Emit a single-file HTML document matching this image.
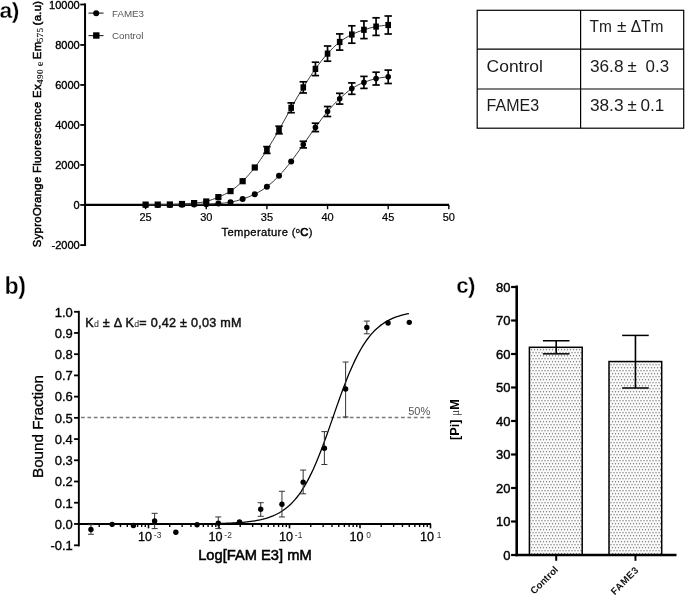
<!DOCTYPE html>
<html lang="en"><head><meta charset="utf-8"><title>Figure</title>
<style>
html,body{margin:0;padding:0;background:#fff;}
body{width:685px;height:596px;overflow:hidden;}
svg{display:block;}
text{font-kerning:normal;}
</style></head><body>
<svg width="685" height="596" viewBox="0 0 685 596">
<rect width="685" height="596" fill="#fff"/>
<g id="panelA">
<line x1="85.05" y1="3.40" x2="85.05" y2="246.00" stroke="#000" stroke-width="2.0" />
<line x1="84.05" y1="204.95" x2="449.00" y2="204.95" stroke="#000" stroke-width="2.2" />
<line x1="80.25" y1="4.50" x2="85.05" y2="4.50" stroke="#000" stroke-width="1.8" />
<text x="79.75" y="8.65" font-size="11.05" font-weight="normal" text-anchor="end" fill="#000" font-family='"Liberation Sans", sans-serif' stroke="#000" stroke-width="0.35">10000</text>
<line x1="80.25" y1="44.95" x2="85.05" y2="44.95" stroke="#000" stroke-width="1.8" />
<text x="79.75" y="49.10" font-size="11.05" font-weight="normal" text-anchor="end" fill="#000" font-family='"Liberation Sans", sans-serif' stroke="#000" stroke-width="0.35">8000</text>
<line x1="80.25" y1="84.95" x2="85.05" y2="84.95" stroke="#000" stroke-width="1.8" />
<text x="79.75" y="89.10" font-size="11.05" font-weight="normal" text-anchor="end" fill="#000" font-family='"Liberation Sans", sans-serif' stroke="#000" stroke-width="0.35">6000</text>
<line x1="80.25" y1="124.95" x2="85.05" y2="124.95" stroke="#000" stroke-width="1.8" />
<text x="79.75" y="129.10" font-size="11.05" font-weight="normal" text-anchor="end" fill="#000" font-family='"Liberation Sans", sans-serif' stroke="#000" stroke-width="0.35">4000</text>
<line x1="80.25" y1="164.95" x2="85.05" y2="164.95" stroke="#000" stroke-width="1.8" />
<text x="79.75" y="169.10" font-size="11.05" font-weight="normal" text-anchor="end" fill="#000" font-family='"Liberation Sans", sans-serif' stroke="#000" stroke-width="0.35">2000</text>
<line x1="80.25" y1="204.95" x2="85.05" y2="204.95" stroke="#000" stroke-width="1.8" />
<text x="79.75" y="209.10" font-size="11.05" font-weight="normal" text-anchor="end" fill="#000" font-family='"Liberation Sans", sans-serif' stroke="#000" stroke-width="0.35">0</text>
<line x1="80.25" y1="245.10" x2="85.05" y2="245.10" stroke="#000" stroke-width="1.8" />
<text x="79.75" y="249.25" font-size="11.05" font-weight="normal" text-anchor="end" fill="#000" font-family='"Liberation Sans", sans-serif' stroke="#000" stroke-width="0.35">-2000</text>
<line x1="145.60" y1="204.95" x2="145.60" y2="209.25" stroke="#000" stroke-width="1.4" />
<text x="145.60" y="220.60" font-size="11" font-weight="normal" text-anchor="middle" fill="#000" font-family='"Liberation Sans", sans-serif' stroke="#000" stroke-width="0.2">25</text>
<line x1="206.25" y1="204.95" x2="206.25" y2="209.25" stroke="#000" stroke-width="1.4" />
<text x="206.25" y="220.60" font-size="11" font-weight="normal" text-anchor="middle" fill="#000" font-family='"Liberation Sans", sans-serif' stroke="#000" stroke-width="0.2">30</text>
<line x1="266.90" y1="204.95" x2="266.90" y2="209.25" stroke="#000" stroke-width="1.4" />
<text x="266.90" y="220.60" font-size="11" font-weight="normal" text-anchor="middle" fill="#000" font-family='"Liberation Sans", sans-serif' stroke="#000" stroke-width="0.2">35</text>
<line x1="327.55" y1="204.95" x2="327.55" y2="209.25" stroke="#000" stroke-width="1.4" />
<text x="327.55" y="220.60" font-size="11" font-weight="normal" text-anchor="middle" fill="#000" font-family='"Liberation Sans", sans-serif' stroke="#000" stroke-width="0.2">40</text>
<line x1="388.20" y1="204.95" x2="388.20" y2="209.25" stroke="#000" stroke-width="1.4" />
<text x="388.20" y="220.60" font-size="11" font-weight="normal" text-anchor="middle" fill="#000" font-family='"Liberation Sans", sans-serif' stroke="#000" stroke-width="0.2">45</text>
<line x1="448.85" y1="204.95" x2="448.85" y2="209.25" stroke="#000" stroke-width="1.4" />
<text x="448.85" y="220.60" font-size="11" font-weight="normal" text-anchor="middle" fill="#000" font-family='"Liberation Sans", sans-serif' stroke="#000" stroke-width="0.2">50</text>
<text x="221.5" y="236.3" font-size="11.2" font-family='"Liberation Sans", sans-serif' fill="#000" stroke="#000" stroke-width="0.3" letter-spacing="0.36">Temperature (<tspan font-size="7.5" dy="-3.5">o</tspan><tspan dy="3.5" stroke-width="0.7">C</tspan>)</text>
<text transform="translate(41.0,247.2) rotate(-90)" font-size="11.3" font-family='"Liberation Sans", sans-serif' fill="#000" stroke="#000" stroke-width="0.5" letter-spacing="0.32">SyproOrange Fluorescence Ex<tspan font-family='"Liberation Serif", serif' font-size="9.2" dy="2.2" stroke-width="0.15" fill="#111" letter-spacing="0.4">490<tspan dx="0.3" font-size="9.8"> e</tspan></tspan><tspan dy="-2.2" dx="-1.4"> Em</tspan><tspan font-family='"Liberation Serif", serif' font-size="9.2" dy="2.2" dx="-0.8" stroke-width="0.15" fill="#111" letter-spacing="0.3">575</tspan><tspan dy="-2.2" dx="-1.2" letter-spacing="0.3"> (a.u)</tspan></text>
<line x1="88.50" y1="13.10" x2="103.50" y2="13.10" stroke="#222" stroke-width="1.1" />
<circle cx="96.2" cy="13.2" r="3.0" fill="#000"/>
<text x="112.00" y="16.50" font-size="9.75" font-weight="normal" text-anchor="start" fill="#555" font-family='"Liberation Sans", sans-serif' >FAME3</text>
<line x1="88.50" y1="35.60" x2="103.50" y2="35.60" stroke="#222" stroke-width="1.1" />
<rect x="93.1" y="32.3" width="6.4" height="6.4" fill="#000"/>
<text x="112.00" y="38.80" font-size="9.75" font-weight="normal" text-anchor="start" fill="#555" font-family='"Liberation Sans", sans-serif' >Control</text>
<path d="M145.60,204.60 C147.62,204.60 153.69,204.62 157.73,204.60 C161.77,204.58 165.82,204.60 169.86,204.50 C173.90,204.40 177.95,204.23 181.99,204.00 C186.03,203.77 190.08,203.52 194.12,203.10 C198.16,202.68 202.21,202.50 206.25,201.50 C210.29,200.50 214.34,198.83 218.38,197.10 C222.42,195.37 226.47,193.75 230.51,191.10 C234.55,188.45 238.60,185.13 242.64,181.20 C246.68,177.27 250.73,172.70 254.77,167.50 C258.81,162.30 262.86,156.25 266.90,150.00 C270.94,143.75 274.99,137.03 279.03,130.00 C283.07,122.97 287.12,114.90 291.16,107.80 C295.20,100.70 299.25,93.88 303.29,87.40 C307.33,80.92 311.38,74.53 315.42,68.90 C319.46,63.27 323.51,58.08 327.55,53.60 C331.59,49.12 335.64,45.18 339.68,42.00 C343.72,38.82 347.77,36.53 351.81,34.50 C355.85,32.47 359.90,31.12 363.94,29.80 C367.98,28.48 372.03,27.40 376.07,26.60 C380.11,25.80 386.18,25.27 388.20,25.00" fill="none" stroke="#3a3a3a" stroke-width="1"/>
<rect x="142.50" y="201.50" width="6.2" height="6.2" fill="#000"/>
<rect x="154.63" y="201.50" width="6.2" height="6.2" fill="#000"/>
<rect x="166.76" y="201.40" width="6.2" height="6.2" fill="#000"/>
<rect x="178.89" y="200.90" width="6.2" height="6.2" fill="#000"/>
<rect x="191.02" y="200.00" width="6.2" height="6.2" fill="#000"/>
<rect x="203.15" y="198.40" width="6.2" height="6.2" fill="#000"/>
<rect x="215.28" y="194.00" width="6.2" height="6.2" fill="#000"/>
<rect x="227.41" y="188.00" width="6.2" height="6.2" fill="#000"/>
<rect x="239.54" y="178.10" width="6.2" height="6.2" fill="#000"/>
<rect x="251.67" y="164.40" width="6.2" height="6.2" fill="#000"/>
<line x1="266.90" y1="146.60" x2="266.90" y2="153.40" stroke="#000" stroke-width="1.7" />
<line x1="263.20" y1="146.60" x2="270.60" y2="146.60" stroke="#000" stroke-width="1.7" />
<line x1="263.20" y1="153.40" x2="270.60" y2="153.40" stroke="#000" stroke-width="1.7" />
<rect x="264.10" y="146.90" width="5.6" height="6.2" fill="#000"/>
<line x1="279.03" y1="126.20" x2="279.03" y2="133.80" stroke="#000" stroke-width="1.7" />
<line x1="275.33" y1="126.20" x2="282.73" y2="126.20" stroke="#000" stroke-width="1.7" />
<line x1="275.33" y1="133.80" x2="282.73" y2="133.80" stroke="#000" stroke-width="1.7" />
<rect x="276.23" y="126.90" width="5.6" height="6.2" fill="#000"/>
<line x1="291.16" y1="102.90" x2="291.16" y2="112.70" stroke="#000" stroke-width="1.7" />
<line x1="287.46" y1="102.90" x2="294.86" y2="102.90" stroke="#000" stroke-width="1.7" />
<line x1="287.46" y1="112.70" x2="294.86" y2="112.70" stroke="#000" stroke-width="1.7" />
<rect x="288.36" y="104.70" width="5.6" height="6.2" fill="#000"/>
<line x1="303.29" y1="81.80" x2="303.29" y2="93.00" stroke="#000" stroke-width="1.7" />
<line x1="299.59" y1="81.80" x2="306.99" y2="81.80" stroke="#000" stroke-width="1.7" />
<line x1="299.59" y1="93.00" x2="306.99" y2="93.00" stroke="#000" stroke-width="1.7" />
<rect x="300.49" y="84.30" width="5.6" height="6.2" fill="#000"/>
<line x1="315.42" y1="62.20" x2="315.42" y2="75.60" stroke="#000" stroke-width="1.7" />
<line x1="311.72" y1="62.20" x2="319.12" y2="62.20" stroke="#000" stroke-width="1.7" />
<line x1="311.72" y1="75.60" x2="319.12" y2="75.60" stroke="#000" stroke-width="1.7" />
<rect x="312.62" y="65.80" width="5.6" height="6.2" fill="#000"/>
<line x1="327.55" y1="46.00" x2="327.55" y2="61.20" stroke="#000" stroke-width="1.7" />
<line x1="323.85" y1="46.00" x2="331.25" y2="46.00" stroke="#000" stroke-width="1.7" />
<line x1="323.85" y1="61.20" x2="331.25" y2="61.20" stroke="#000" stroke-width="1.7" />
<rect x="324.75" y="50.50" width="5.6" height="6.2" fill="#000"/>
<line x1="339.68" y1="33.90" x2="339.68" y2="50.10" stroke="#000" stroke-width="1.7" />
<line x1="335.98" y1="33.90" x2="343.38" y2="33.90" stroke="#000" stroke-width="1.7" />
<line x1="335.98" y1="50.10" x2="343.38" y2="50.10" stroke="#000" stroke-width="1.7" />
<rect x="336.88" y="38.90" width="5.6" height="6.2" fill="#000"/>
<line x1="351.81" y1="25.80" x2="351.81" y2="43.20" stroke="#000" stroke-width="1.7" />
<line x1="348.11" y1="25.80" x2="355.51" y2="25.80" stroke="#000" stroke-width="1.7" />
<line x1="348.11" y1="43.20" x2="355.51" y2="43.20" stroke="#000" stroke-width="1.7" />
<rect x="349.01" y="31.40" width="5.6" height="6.2" fill="#000"/>
<line x1="363.94" y1="21.00" x2="363.94" y2="38.60" stroke="#000" stroke-width="1.7" />
<line x1="360.24" y1="21.00" x2="367.64" y2="21.00" stroke="#000" stroke-width="1.7" />
<line x1="360.24" y1="38.60" x2="367.64" y2="38.60" stroke="#000" stroke-width="1.7" />
<rect x="361.14" y="26.70" width="5.6" height="6.2" fill="#000"/>
<line x1="376.07" y1="17.80" x2="376.07" y2="35.40" stroke="#000" stroke-width="1.7" />
<line x1="372.37" y1="17.80" x2="379.77" y2="17.80" stroke="#000" stroke-width="1.7" />
<line x1="372.37" y1="35.40" x2="379.77" y2="35.40" stroke="#000" stroke-width="1.7" />
<rect x="373.27" y="23.50" width="5.6" height="6.2" fill="#000"/>
<line x1="388.20" y1="16.00" x2="388.20" y2="34.00" stroke="#000" stroke-width="1.7" />
<line x1="384.50" y1="16.00" x2="391.90" y2="16.00" stroke="#000" stroke-width="1.7" />
<line x1="384.50" y1="34.00" x2="391.90" y2="34.00" stroke="#000" stroke-width="1.7" />
<rect x="385.40" y="21.90" width="5.6" height="6.2" fill="#000"/>
<path d="M145.60,204.90 C147.62,204.90 153.69,204.90 157.73,204.90 C161.77,204.90 165.82,204.92 169.86,204.90 C173.90,204.88 177.95,204.85 181.99,204.80 C186.03,204.75 190.08,204.70 194.12,204.60 C198.16,204.50 202.21,204.38 206.25,204.20 C210.29,204.02 214.34,203.83 218.38,203.50 C222.42,203.17 226.47,202.95 230.51,202.20 C234.55,201.45 238.60,200.33 242.64,199.00 C246.68,197.67 250.73,196.25 254.77,194.20 C258.81,192.15 262.86,189.77 266.90,186.70 C270.94,183.63 274.99,180.02 279.03,175.80 C283.07,171.58 287.12,166.60 291.16,161.40 C295.20,156.20 299.25,150.27 303.29,144.60 C307.33,138.93 311.38,132.92 315.42,127.40 C319.46,121.88 323.51,116.28 327.55,111.50 C331.59,106.72 335.64,102.52 339.68,98.70 C343.72,94.88 347.77,91.32 351.81,88.60 C355.85,85.88 359.90,84.07 363.94,82.40 C367.98,80.73 372.03,79.53 376.07,78.60 C380.11,77.67 386.18,77.10 388.20,76.80" fill="none" stroke="#3a3a3a" stroke-width="1"/>
<circle cx="145.60" cy="204.90" r="3.0" fill="#000"/>
<circle cx="157.73" cy="204.90" r="3.0" fill="#000"/>
<circle cx="169.86" cy="204.90" r="3.0" fill="#000"/>
<circle cx="181.99" cy="204.80" r="3.0" fill="#000"/>
<circle cx="194.12" cy="204.60" r="3.0" fill="#000"/>
<circle cx="206.25" cy="204.20" r="3.0" fill="#000"/>
<circle cx="218.38" cy="203.50" r="3.0" fill="#000"/>
<circle cx="230.51" cy="202.20" r="3.0" fill="#000"/>
<circle cx="242.64" cy="199.00" r="3.0" fill="#000"/>
<circle cx="254.77" cy="194.20" r="3.0" fill="#000"/>
<circle cx="266.90" cy="186.70" r="3.0" fill="#000"/>
<circle cx="279.03" cy="175.80" r="3.0" fill="#000"/>
<circle cx="291.16" cy="161.40" r="3.0" fill="#000"/>
<line x1="303.29" y1="141.30" x2="303.29" y2="147.90" stroke="#000" stroke-width="1.7" />
<line x1="299.59" y1="141.30" x2="306.99" y2="141.30" stroke="#000" stroke-width="1.7" />
<line x1="299.59" y1="147.90" x2="306.99" y2="147.90" stroke="#000" stroke-width="1.7" />
<circle cx="303.29" cy="144.60" r="2.8" fill="#000"/>
<line x1="315.42" y1="123.20" x2="315.42" y2="131.60" stroke="#000" stroke-width="1.7" />
<line x1="311.72" y1="123.20" x2="319.12" y2="123.20" stroke="#000" stroke-width="1.7" />
<line x1="311.72" y1="131.60" x2="319.12" y2="131.60" stroke="#000" stroke-width="1.7" />
<circle cx="315.42" cy="127.40" r="2.8" fill="#000"/>
<line x1="327.55" y1="106.50" x2="327.55" y2="116.50" stroke="#000" stroke-width="1.7" />
<line x1="323.85" y1="106.50" x2="331.25" y2="106.50" stroke="#000" stroke-width="1.7" />
<line x1="323.85" y1="116.50" x2="331.25" y2="116.50" stroke="#000" stroke-width="1.7" />
<circle cx="327.55" cy="111.50" r="2.8" fill="#000"/>
<line x1="339.68" y1="93.30" x2="339.68" y2="104.10" stroke="#000" stroke-width="1.7" />
<line x1="335.98" y1="93.30" x2="343.38" y2="93.30" stroke="#000" stroke-width="1.7" />
<line x1="335.98" y1="104.10" x2="343.38" y2="104.10" stroke="#000" stroke-width="1.7" />
<circle cx="339.68" cy="98.70" r="2.8" fill="#000"/>
<line x1="351.81" y1="82.90" x2="351.81" y2="94.30" stroke="#000" stroke-width="1.7" />
<line x1="348.11" y1="82.90" x2="355.51" y2="82.90" stroke="#000" stroke-width="1.7" />
<line x1="348.11" y1="94.30" x2="355.51" y2="94.30" stroke="#000" stroke-width="1.7" />
<circle cx="351.81" cy="88.60" r="2.8" fill="#000"/>
<line x1="363.94" y1="76.40" x2="363.94" y2="88.40" stroke="#000" stroke-width="1.7" />
<line x1="360.24" y1="76.40" x2="367.64" y2="76.40" stroke="#000" stroke-width="1.7" />
<line x1="360.24" y1="88.40" x2="367.64" y2="88.40" stroke="#000" stroke-width="1.7" />
<circle cx="363.94" cy="82.40" r="2.8" fill="#000"/>
<line x1="376.07" y1="72.20" x2="376.07" y2="85.00" stroke="#000" stroke-width="1.7" />
<line x1="372.37" y1="72.20" x2="379.77" y2="72.20" stroke="#000" stroke-width="1.7" />
<line x1="372.37" y1="85.00" x2="379.77" y2="85.00" stroke="#000" stroke-width="1.7" />
<circle cx="376.07" cy="78.60" r="2.8" fill="#000"/>
<line x1="388.20" y1="70.10" x2="388.20" y2="83.50" stroke="#000" stroke-width="1.7" />
<line x1="384.50" y1="70.10" x2="391.90" y2="70.10" stroke="#000" stroke-width="1.7" />
<line x1="384.50" y1="83.50" x2="391.90" y2="83.50" stroke="#000" stroke-width="1.7" />
<circle cx="388.20" cy="76.80" r="2.8" fill="#000"/>
</g>
<g id="panelB">
<line x1="78.85" y1="310.80" x2="78.85" y2="546.40" stroke="#000" stroke-width="1.9" />
<line x1="77.90" y1="523.95" x2="431.00" y2="523.95" stroke="#000" stroke-width="2.1" />
<line x1="74.05" y1="545.30" x2="78.85" y2="545.30" stroke="#000" stroke-width="1.8" />
<text x="72.85" y="550.10" font-size="13.0" text-anchor="end" font-family='"Liberation Sans", sans-serif' fill="#000" stroke="#000" stroke-width="0.35">-0.1</text>
<line x1="74.05" y1="523.95" x2="78.85" y2="523.95" stroke="#000" stroke-width="1.8" />
<text x="72.85" y="528.75" font-size="13.0" text-anchor="end" font-family='"Liberation Sans", sans-serif' fill="#000" stroke="#000" stroke-width="0.35">0.0</text>
<line x1="74.05" y1="502.73" x2="78.85" y2="502.73" stroke="#000" stroke-width="1.8" />
<text x="72.85" y="507.53" font-size="13.0" text-anchor="end" font-family='"Liberation Sans", sans-serif' fill="#000" stroke="#000" stroke-width="0.35">0.1</text>
<line x1="74.05" y1="481.51" x2="78.85" y2="481.51" stroke="#000" stroke-width="1.8" />
<text x="72.85" y="486.31" font-size="13.0" text-anchor="end" font-family='"Liberation Sans", sans-serif' fill="#000" stroke="#000" stroke-width="0.35">0.2</text>
<line x1="74.05" y1="460.29" x2="78.85" y2="460.29" stroke="#000" stroke-width="1.8" />
<text x="72.85" y="465.09" font-size="13.0" text-anchor="end" font-family='"Liberation Sans", sans-serif' fill="#000" stroke="#000" stroke-width="0.35">0.3</text>
<line x1="74.05" y1="439.07" x2="78.85" y2="439.07" stroke="#000" stroke-width="1.8" />
<text x="72.85" y="443.87" font-size="13.0" text-anchor="end" font-family='"Liberation Sans", sans-serif' fill="#000" stroke="#000" stroke-width="0.35">0.4</text>
<line x1="74.05" y1="417.85" x2="78.85" y2="417.85" stroke="#000" stroke-width="1.8" />
<text x="72.85" y="422.65" font-size="13.0" text-anchor="end" font-family='"Liberation Sans", sans-serif' fill="#000" stroke="#000" stroke-width="0.35">0.5</text>
<line x1="74.05" y1="396.63" x2="78.85" y2="396.63" stroke="#000" stroke-width="1.8" />
<text x="72.85" y="401.43" font-size="13.0" text-anchor="end" font-family='"Liberation Sans", sans-serif' fill="#000" stroke="#000" stroke-width="0.35">0.6</text>
<line x1="74.05" y1="375.41" x2="78.85" y2="375.41" stroke="#000" stroke-width="1.8" />
<text x="72.85" y="380.21" font-size="13.0" text-anchor="end" font-family='"Liberation Sans", sans-serif' fill="#000" stroke="#000" stroke-width="0.35">0.7</text>
<line x1="74.05" y1="354.19" x2="78.85" y2="354.19" stroke="#000" stroke-width="1.8" />
<text x="72.85" y="358.99" font-size="13.0" text-anchor="end" font-family='"Liberation Sans", sans-serif' fill="#000" stroke="#000" stroke-width="0.35">0.8</text>
<line x1="74.05" y1="332.97" x2="78.85" y2="332.97" stroke="#000" stroke-width="1.8" />
<text x="72.85" y="337.77" font-size="13.0" text-anchor="end" font-family='"Liberation Sans", sans-serif' fill="#000" stroke="#000" stroke-width="0.35">0.9</text>
<line x1="74.05" y1="311.80" x2="78.85" y2="311.80" stroke="#000" stroke-width="1.8" />
<text x="72.85" y="316.60" font-size="13.0" text-anchor="end" font-family='"Liberation Sans", sans-serif' fill="#000" stroke="#000" stroke-width="0.35">1.0</text>
<line x1="99.22" y1="523.95" x2="99.22" y2="527.05" stroke="#000" stroke-width="1.4" />
<line x1="111.64" y1="523.95" x2="111.64" y2="527.05" stroke="#000" stroke-width="1.4" />
<line x1="120.45" y1="523.95" x2="120.45" y2="527.05" stroke="#000" stroke-width="1.4" />
<line x1="127.28" y1="523.95" x2="127.28" y2="527.05" stroke="#000" stroke-width="1.4" />
<line x1="132.86" y1="523.95" x2="132.86" y2="527.05" stroke="#000" stroke-width="1.4" />
<line x1="137.58" y1="523.95" x2="137.58" y2="527.05" stroke="#000" stroke-width="1.4" />
<line x1="141.67" y1="523.95" x2="141.67" y2="527.05" stroke="#000" stroke-width="1.4" />
<line x1="145.27" y1="523.95" x2="145.27" y2="527.05" stroke="#000" stroke-width="1.4" />
<line x1="148.50" y1="523.95" x2="148.50" y2="528.35" stroke="#000" stroke-width="1.6" />
<text x="137.90" y="541.0" font-size="12.6" font-family='"Liberation Sans", sans-serif' fill="#000" stroke="#000" stroke-width="0.3">10</text>
<text x="153.80" y="537.6" font-size="8.4" font-family='"Liberation Sans", sans-serif' fill="#333" letter-spacing="0.1">-3</text>
<line x1="169.72" y1="523.95" x2="169.72" y2="527.05" stroke="#000" stroke-width="1.4" />
<line x1="182.14" y1="523.95" x2="182.14" y2="527.05" stroke="#000" stroke-width="1.4" />
<line x1="190.95" y1="523.95" x2="190.95" y2="527.05" stroke="#000" stroke-width="1.4" />
<line x1="197.78" y1="523.95" x2="197.78" y2="527.05" stroke="#000" stroke-width="1.4" />
<line x1="203.36" y1="523.95" x2="203.36" y2="527.05" stroke="#000" stroke-width="1.4" />
<line x1="208.08" y1="523.95" x2="208.08" y2="527.05" stroke="#000" stroke-width="1.4" />
<line x1="212.17" y1="523.95" x2="212.17" y2="527.05" stroke="#000" stroke-width="1.4" />
<line x1="215.77" y1="523.95" x2="215.77" y2="527.05" stroke="#000" stroke-width="1.4" />
<line x1="219.00" y1="523.95" x2="219.00" y2="528.35" stroke="#000" stroke-width="1.6" />
<text x="208.40" y="541.0" font-size="12.6" font-family='"Liberation Sans", sans-serif' fill="#000" stroke="#000" stroke-width="0.3">10</text>
<text x="224.30" y="537.6" font-size="8.4" font-family='"Liberation Sans", sans-serif' fill="#333" letter-spacing="0.1">-2</text>
<line x1="240.22" y1="523.95" x2="240.22" y2="527.05" stroke="#000" stroke-width="1.4" />
<line x1="252.64" y1="523.95" x2="252.64" y2="527.05" stroke="#000" stroke-width="1.4" />
<line x1="261.45" y1="523.95" x2="261.45" y2="527.05" stroke="#000" stroke-width="1.4" />
<line x1="268.28" y1="523.95" x2="268.28" y2="527.05" stroke="#000" stroke-width="1.4" />
<line x1="273.86" y1="523.95" x2="273.86" y2="527.05" stroke="#000" stroke-width="1.4" />
<line x1="278.58" y1="523.95" x2="278.58" y2="527.05" stroke="#000" stroke-width="1.4" />
<line x1="282.67" y1="523.95" x2="282.67" y2="527.05" stroke="#000" stroke-width="1.4" />
<line x1="286.27" y1="523.95" x2="286.27" y2="527.05" stroke="#000" stroke-width="1.4" />
<line x1="289.50" y1="523.95" x2="289.50" y2="528.35" stroke="#000" stroke-width="1.6" />
<text x="278.90" y="541.0" font-size="12.6" font-family='"Liberation Sans", sans-serif' fill="#000" stroke="#000" stroke-width="0.3">10</text>
<text x="294.80" y="537.6" font-size="8.4" font-family='"Liberation Sans", sans-serif' fill="#333" letter-spacing="0.1">-1</text>
<line x1="310.72" y1="523.95" x2="310.72" y2="527.05" stroke="#000" stroke-width="1.4" />
<line x1="323.14" y1="523.95" x2="323.14" y2="527.05" stroke="#000" stroke-width="1.4" />
<line x1="331.95" y1="523.95" x2="331.95" y2="527.05" stroke="#000" stroke-width="1.4" />
<line x1="338.78" y1="523.95" x2="338.78" y2="527.05" stroke="#000" stroke-width="1.4" />
<line x1="344.36" y1="523.95" x2="344.36" y2="527.05" stroke="#000" stroke-width="1.4" />
<line x1="349.08" y1="523.95" x2="349.08" y2="527.05" stroke="#000" stroke-width="1.4" />
<line x1="353.17" y1="523.95" x2="353.17" y2="527.05" stroke="#000" stroke-width="1.4" />
<line x1="356.77" y1="523.95" x2="356.77" y2="527.05" stroke="#000" stroke-width="1.4" />
<line x1="360.00" y1="523.95" x2="360.00" y2="528.35" stroke="#000" stroke-width="1.6" />
<text x="349.40" y="541.0" font-size="12.6" font-family='"Liberation Sans", sans-serif' fill="#000" stroke="#000" stroke-width="0.3">10</text>
<text x="366.30" y="537.6" font-size="8.4" font-family='"Liberation Sans", sans-serif' fill="#333" letter-spacing="0.1">0</text>
<line x1="381.22" y1="523.95" x2="381.22" y2="527.05" stroke="#000" stroke-width="1.4" />
<line x1="393.64" y1="523.95" x2="393.64" y2="527.05" stroke="#000" stroke-width="1.4" />
<line x1="402.45" y1="523.95" x2="402.45" y2="527.05" stroke="#000" stroke-width="1.4" />
<line x1="409.28" y1="523.95" x2="409.28" y2="527.05" stroke="#000" stroke-width="1.4" />
<line x1="414.86" y1="523.95" x2="414.86" y2="527.05" stroke="#000" stroke-width="1.4" />
<line x1="419.58" y1="523.95" x2="419.58" y2="527.05" stroke="#000" stroke-width="1.4" />
<line x1="423.67" y1="523.95" x2="423.67" y2="527.05" stroke="#000" stroke-width="1.4" />
<line x1="427.27" y1="523.95" x2="427.27" y2="527.05" stroke="#000" stroke-width="1.4" />
<line x1="430.50" y1="523.95" x2="430.50" y2="528.35" stroke="#000" stroke-width="1.6" />
<text x="419.90" y="541.0" font-size="12.6" font-family='"Liberation Sans", sans-serif' fill="#000" stroke="#000" stroke-width="0.3">10</text>
<text x="436.80" y="537.6" font-size="8.4" font-family='"Liberation Sans", sans-serif' fill="#333" letter-spacing="0.1">1</text>
<text x="254.9" y="560.3" font-size="14.7" text-anchor="middle" font-family='"Liberation Sans", sans-serif' fill="#000" stroke="#000" stroke-width="0.55">Log[FAM E3] mM</text>
<text transform="translate(42.6,426.5) rotate(-90)" text-anchor="middle" font-size="15.2" font-family='"Liberation Sans", sans-serif' fill="#000" stroke="#000" stroke-width="0.3">Bound Fraction</text>
<text x="85.3" y="326.9" font-size="12.6" font-family='"Liberation Sans", sans-serif' fill="#111" stroke="#111" stroke-width="0.45" textLength="156.2" lengthAdjust="spacing">K<tspan font-size="8.8" stroke-width="0.1" fill="#444">d</tspan> ± Δ K<tspan font-size="8.8" stroke-width="0.1" fill="#444">d</tspan>= 0,42 ± 0,03 mM</text>
<line x1="81.05" y1="417.55" x2="431.20" y2="417.55" stroke="#7a7a7a" stroke-width="1.4" stroke-dasharray="3.7 2.7"/>
<text x="430.20" y="415.10" font-size="11" font-weight="normal" text-anchor="end" fill="#555" font-family='"Liberation Sans", sans-serif' >50%</text>
<polyline points="190.95,523.85 192.95,523.84 194.95,523.82 196.95,523.81 198.95,523.79 200.95,523.78 202.95,523.76 204.95,523.74 206.95,523.71 208.95,523.68 210.95,523.65 212.95,523.62 214.95,523.58 216.95,523.54 218.95,523.49 220.95,523.44 222.95,523.39 224.95,523.32 226.95,523.25 228.95,523.17 230.95,523.08 232.95,522.98 234.95,522.87 236.95,522.75 238.95,522.62 240.95,522.47 242.95,522.30 244.95,522.11 246.95,521.91 248.95,521.68 250.95,521.42 252.95,521.14 254.95,520.82 256.95,520.47 258.95,520.08 260.95,519.65 262.95,519.17 264.95,518.64 266.95,518.06 268.95,517.41 270.95,516.69 272.95,515.89 274.95,515.01 276.95,514.04 278.95,512.97 280.95,511.79 282.95,510.50 284.95,509.07 286.95,507.51 288.95,505.80 290.95,503.93 292.95,501.88 294.95,499.66 296.95,497.24 298.95,494.61 300.95,491.78 302.95,488.72 304.95,485.43 306.95,481.91 308.95,478.15 310.95,474.15 312.95,469.91 314.95,465.45 316.95,460.76 318.95,455.85 320.95,450.76 322.95,445.48 324.95,440.05 326.95,434.50 328.95,428.85 330.95,423.12 332.95,417.37 334.95,411.61 336.95,405.88 338.95,400.22 340.95,394.65 342.95,389.20 344.95,383.91 346.95,378.79 348.95,373.86 350.95,369.14 352.95,364.64 354.95,360.38 356.95,356.35 358.95,352.56 360.95,349.01 362.95,345.69 364.95,342.60 366.95,339.74 368.95,337.09 370.95,334.64 372.95,332.39 374.95,330.33 376.95,328.43 378.95,326.70 380.95,325.12 382.95,323.68 384.95,322.37 386.95,321.17 388.95,320.09 390.95,319.11 392.95,318.22 394.95,317.41 396.95,316.68 398.95,316.03 400.95,315.43 402.95,314.89 404.95,314.41 406.95,313.97 408.95,313.58" fill="none" stroke="#000" stroke-width="1.3"/>
<circle cx="409.28" cy="322.36" r="2.7" fill="#000"/>
<circle cx="388.05" cy="323.00" r="2.7" fill="#000"/>
<line x1="366.83" y1="321.09" x2="366.83" y2="333.82" stroke="#333" stroke-width="1" />
<line x1="363.83" y1="321.09" x2="369.83" y2="321.09" stroke="#333" stroke-width="1" />
<line x1="363.83" y1="333.82" x2="369.83" y2="333.82" stroke="#333" stroke-width="1" />
<circle cx="366.83" cy="327.45" r="2.7" fill="#000"/>
<line x1="345.61" y1="362.04" x2="345.61" y2="417.00" stroke="#333" stroke-width="1" />
<line x1="342.61" y1="362.04" x2="348.61" y2="362.04" stroke="#333" stroke-width="1" />
<line x1="342.61" y1="417.00" x2="348.61" y2="417.00" stroke="#333" stroke-width="1" />
<circle cx="345.61" cy="388.99" r="2.7" fill="#000"/>
<line x1="324.39" y1="431.64" x2="324.39" y2="464.53" stroke="#333" stroke-width="1" />
<line x1="321.39" y1="431.64" x2="327.39" y2="431.64" stroke="#333" stroke-width="1" />
<line x1="321.39" y1="464.53" x2="327.39" y2="464.53" stroke="#333" stroke-width="1" />
<circle cx="324.39" cy="448.19" r="2.7" fill="#000"/>
<line x1="303.16" y1="470.05" x2="303.16" y2="493.82" stroke="#333" stroke-width="1" />
<line x1="300.16" y1="470.05" x2="306.16" y2="470.05" stroke="#333" stroke-width="1" />
<line x1="300.16" y1="493.82" x2="306.16" y2="493.82" stroke="#333" stroke-width="1" />
<circle cx="303.16" cy="482.15" r="2.7" fill="#000"/>
<line x1="281.94" y1="491.27" x2="281.94" y2="516.95" stroke="#333" stroke-width="1" />
<line x1="278.94" y1="491.27" x2="284.94" y2="491.27" stroke="#333" stroke-width="1" />
<line x1="278.94" y1="516.95" x2="284.94" y2="516.95" stroke="#333" stroke-width="1" />
<circle cx="281.94" cy="504.22" r="2.7" fill="#000"/>
<line x1="260.72" y1="502.73" x2="260.72" y2="516.31" stroke="#333" stroke-width="1" />
<line x1="257.72" y1="502.73" x2="263.72" y2="502.73" stroke="#333" stroke-width="1" />
<line x1="257.72" y1="516.31" x2="263.72" y2="516.31" stroke="#333" stroke-width="1" />
<circle cx="260.72" cy="509.31" r="2.7" fill="#000"/>
<circle cx="239.50" cy="521.83" r="2.7" fill="#000"/>
<line x1="218.27" y1="516.95" x2="218.27" y2="528.62" stroke="#333" stroke-width="1" />
<line x1="215.27" y1="516.95" x2="221.27" y2="516.95" stroke="#333" stroke-width="1" />
<line x1="215.27" y1="528.62" x2="221.27" y2="528.62" stroke="#333" stroke-width="1" />
<circle cx="218.27" cy="523.10" r="2.7" fill="#000"/>
<circle cx="197.05" cy="524.80" r="2.7" fill="#000"/>
<circle cx="175.83" cy="532.23" r="2.7" fill="#000"/>
<line x1="154.61" y1="513.34" x2="154.61" y2="528.62" stroke="#333" stroke-width="1" />
<line x1="151.61" y1="513.34" x2="157.61" y2="513.34" stroke="#333" stroke-width="1" />
<line x1="151.61" y1="528.62" x2="157.61" y2="528.62" stroke="#333" stroke-width="1" />
<circle cx="154.61" cy="520.98" r="2.7" fill="#000"/>
<circle cx="133.38" cy="525.44" r="2.7" fill="#000"/>
<circle cx="112.16" cy="524.37" r="2.7" fill="#000"/>
<line x1="90.94" y1="524.67" x2="90.94" y2="534.26" stroke="#333" stroke-width="1" />
<line x1="87.94" y1="524.67" x2="93.94" y2="524.67" stroke="#333" stroke-width="1" />
<line x1="87.94" y1="534.26" x2="93.94" y2="534.26" stroke="#333" stroke-width="1" />
<circle cx="90.94" cy="529.47" r="2.7" fill="#000"/>
</g>
<g id="panelC">
<defs><pattern id="dots" x="530" y="348.2" width="3" height="6" patternUnits="userSpaceOnUse"><rect width="3" height="6" fill="#fff"/><rect x="0.9" y="0.9" width="1.25" height="1.25" fill="#6e6e6e"/><rect x="2.4" y="3.9" width="0.6" height="1.25" fill="#6e6e6e"/><rect x="0" y="3.9" width="0.65" height="1.25" fill="#6e6e6e"/></pattern></defs>
<rect x="529.40" y="347.30" width="52.80" height="207.70" fill="url(#dots)" stroke="#000" stroke-width="1.5"/>
<line x1="556.20" y1="340.77" x2="556.20" y2="353.83" stroke="#000" stroke-width="1.6" />
<line x1="542.90" y1="340.77" x2="569.50" y2="340.77" stroke="#000" stroke-width="1.5" />
<line x1="542.90" y1="353.83" x2="569.50" y2="353.83" stroke="#000" stroke-width="1.5" />
<line x1="556.20" y1="555.00" x2="556.20" y2="560.80" stroke="#000" stroke-width="2.0" />
<rect x="609.00" y="361.54" width="52.70" height="193.46" fill="url(#dots)" stroke="#000" stroke-width="1.5"/>
<line x1="635.45" y1="335.41" x2="635.45" y2="388.00" stroke="#000" stroke-width="1.6" />
<line x1="622.15" y1="335.41" x2="648.75" y2="335.41" stroke="#000" stroke-width="1.5" />
<line x1="622.15" y1="388.00" x2="648.75" y2="388.00" stroke="#000" stroke-width="1.5" />
<line x1="635.45" y1="555.00" x2="635.45" y2="560.80" stroke="#000" stroke-width="2.0" />
<line x1="516.70" y1="285.60" x2="516.70" y2="556.30" stroke="#000" stroke-width="2.6" />
<line x1="515.40" y1="555.00" x2="676.50" y2="555.00" stroke="#000" stroke-width="2.6" />
<line x1="511.10" y1="555.00" x2="516.70" y2="555.00" stroke="#000" stroke-width="2.2" />
<text x="510.50" y="559.70" font-size="13.0" font-weight="normal" text-anchor="end" fill="#000" font-family='"Liberation Sans", sans-serif' stroke="#000" stroke-width="0.4">0</text>
<line x1="511.10" y1="521.50" x2="516.70" y2="521.50" stroke="#000" stroke-width="2.2" />
<text x="510.50" y="526.20" font-size="13.0" font-weight="normal" text-anchor="end" fill="#000" font-family='"Liberation Sans", sans-serif' stroke="#000" stroke-width="0.4">10</text>
<line x1="511.10" y1="488.00" x2="516.70" y2="488.00" stroke="#000" stroke-width="2.2" />
<text x="510.50" y="492.70" font-size="13.0" font-weight="normal" text-anchor="end" fill="#000" font-family='"Liberation Sans", sans-serif' stroke="#000" stroke-width="0.4">20</text>
<line x1="511.10" y1="454.50" x2="516.70" y2="454.50" stroke="#000" stroke-width="2.2" />
<text x="510.50" y="459.20" font-size="13.0" font-weight="normal" text-anchor="end" fill="#000" font-family='"Liberation Sans", sans-serif' stroke="#000" stroke-width="0.4">30</text>
<line x1="511.10" y1="421.00" x2="516.70" y2="421.00" stroke="#000" stroke-width="2.2" />
<text x="510.50" y="425.70" font-size="13.0" font-weight="normal" text-anchor="end" fill="#000" font-family='"Liberation Sans", sans-serif' stroke="#000" stroke-width="0.4">40</text>
<line x1="511.10" y1="387.50" x2="516.70" y2="387.50" stroke="#000" stroke-width="2.2" />
<text x="510.50" y="392.20" font-size="13.0" font-weight="normal" text-anchor="end" fill="#000" font-family='"Liberation Sans", sans-serif' stroke="#000" stroke-width="0.4">50</text>
<line x1="511.10" y1="354.00" x2="516.70" y2="354.00" stroke="#000" stroke-width="2.2" />
<text x="510.50" y="358.70" font-size="13.0" font-weight="normal" text-anchor="end" fill="#000" font-family='"Liberation Sans", sans-serif' stroke="#000" stroke-width="0.4">60</text>
<line x1="511.10" y1="320.50" x2="516.70" y2="320.50" stroke="#000" stroke-width="2.2" />
<text x="510.50" y="325.20" font-size="13.0" font-weight="normal" text-anchor="end" fill="#000" font-family='"Liberation Sans", sans-serif' stroke="#000" stroke-width="0.4">70</text>
<line x1="511.10" y1="287.00" x2="516.70" y2="287.00" stroke="#000" stroke-width="2.2" />
<text x="510.50" y="291.70" font-size="13.0" font-weight="normal" text-anchor="end" fill="#000" font-family='"Liberation Sans", sans-serif' stroke="#000" stroke-width="0.4">80</text>
<text transform="translate(458.9,419.6) rotate(-90)" text-anchor="middle" font-size="12.7" font-weight="bold" font-family='"Liberation Sans", sans-serif' fill="#000">[Pi] <tspan font-family='"Liberation Serif", serif' font-weight="normal" font-size="11.5" fill="#444">μ</tspan>M</text>
<text transform="translate(558.8,570.2) rotate(-45)" text-anchor="end" font-size="9.7" font-weight="bold" font-family='"Liberation Sans", sans-serif' fill="#111" letter-spacing="0.05">Control</text>
<text transform="translate(639.5,570.6) rotate(-45)" text-anchor="end" font-size="9.7" font-weight="bold" font-family='"Liberation Sans", sans-serif' fill="#111" letter-spacing="0.55">FAME3</text>
</g>
<g id="table">
<rect x="477.2" y="10.3" width="206.5" height="117.9" fill="#fff" stroke="#000" stroke-width="1.2"/>
<line x1="580.60" y1="10.30" x2="580.60" y2="128.20" stroke="#000" stroke-width="1.2" />
<line x1="477.20" y1="49.10" x2="683.70" y2="49.10" stroke="#000" stroke-width="1.2" />
<line x1="477.20" y1="89.00" x2="683.70" y2="89.00" stroke="#000" stroke-width="1.2" />
<text x="589.60" y="31.60" font-size="15.6" font-family='"Liberation Sans", sans-serif' fill="#1a1a1a" textLength="22.30" lengthAdjust="spacingAndGlyphs">Tm</text>
<text x="617.10" y="31.60" font-size="15.6" font-family='"Liberation Sans", sans-serif' fill="#1a1a1a" textLength="9.40" lengthAdjust="spacingAndGlyphs">±</text>
<text x="630.70" y="31.60" font-size="15.6" font-family='"Liberation Sans", sans-serif' fill="#1a1a1a" textLength="32.80" lengthAdjust="spacingAndGlyphs">ΔTm</text>
<text x="486.60" y="71.80" font-size="15.6" font-family='"Liberation Sans", sans-serif' fill="#1a1a1a" textLength="56.30" lengthAdjust="spacingAndGlyphs">Control</text>
<text x="589.90" y="71.80" font-size="15.6" font-family='"Liberation Sans", sans-serif' fill="#1a1a1a" textLength="33.60" lengthAdjust="spacingAndGlyphs">36.8</text>
<text x="627.50" y="71.80" font-size="15.6" font-family='"Liberation Sans", sans-serif' fill="#1a1a1a" textLength="9.20" lengthAdjust="spacingAndGlyphs">±</text>
<text x="645.60" y="71.80" font-size="15.6" font-family='"Liberation Sans", sans-serif' fill="#1a1a1a" textLength="23.50" lengthAdjust="spacingAndGlyphs">0.3</text>
<text x="486.60" y="111.40" font-size="15.6" font-family='"Liberation Sans", sans-serif' fill="#1a1a1a" textLength="52.50" lengthAdjust="spacingAndGlyphs">FAME3</text>
<text x="589.90" y="111.40" font-size="15.6" font-family='"Liberation Sans", sans-serif' fill="#1a1a1a" textLength="33.60" lengthAdjust="spacingAndGlyphs">38.3</text>
<text x="627.50" y="111.40" font-size="15.6" font-family='"Liberation Sans", sans-serif' fill="#1a1a1a" textLength="9.20" lengthAdjust="spacingAndGlyphs">±</text>
<text x="640.50" y="111.40" font-size="15.6" font-family='"Liberation Sans", sans-serif' fill="#1a1a1a" textLength="23.80" lengthAdjust="spacingAndGlyphs">0.1</text>
</g>
<text x="-0.60" y="18.20" font-size="22.8" font-weight="bold" text-anchor="start" fill="#000" font-family='"Liberation Sans", sans-serif' stroke="#fff" stroke-width="0.3" letter-spacing="-0.3">a)</text>
<text x="4.50" y="293.80" font-size="23.2" font-weight="bold" text-anchor="start" fill="#000" font-family='"Liberation Sans", sans-serif' stroke="#fff" stroke-width="0.3" letter-spacing="-0.3">b)</text>
<text x="456.20" y="293.00" font-size="22.2" font-weight="bold" text-anchor="start" fill="#000" font-family='"Liberation Sans", sans-serif' stroke="#fff" stroke-width="0.3" letter-spacing="-0.6">c)</text>
</svg>
</body></html>
